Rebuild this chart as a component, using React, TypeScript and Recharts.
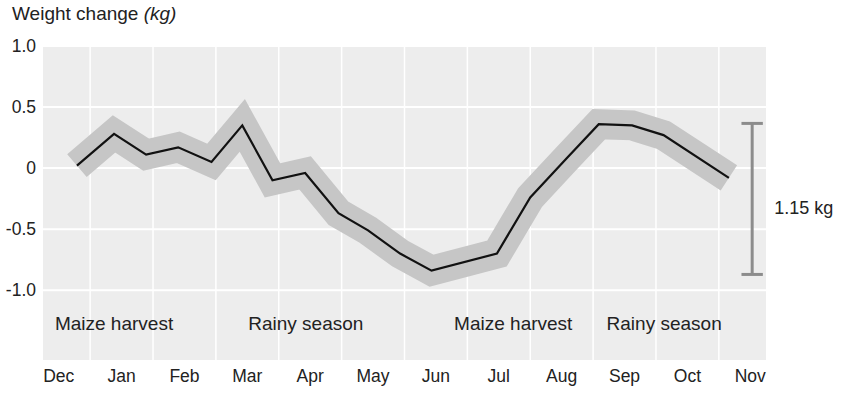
import {
  CartesianGrid,
  Line,
  LineChart,
  ReferenceDot,
  ReferenceLine,
  XAxis,
  YAxis,
} from "recharts"

// month labels, Dec = 0 ... Nov = 11 (label sits in the middle of its month)
const months = ["Dec", "Jan", "Feb", "Mar", "Apr", "May", "Jun", "Jul", "Aug", "Sep", "Oct", "Nov"]

// positions along the year (in months from the Dec label) and weight change (kg)
const positions = [0.29, 0.88, 1.39, 1.9, 2.43, 2.92, 3.4, 3.92, 4.45, 4.92, 5.43, 5.93, 6.97, 7.5, 8.08, 8.59, 9.12, 9.62, 10.66]
const weightChange = [0.02, 0.28, 0.11, 0.17, 0.05, 0.35, -0.1, -0.04, -0.37, -0.51, -0.7, -0.84, -0.7, -0.24, 0.08, 0.36, 0.35, 0.27, -0.08]

const yTicks = [1.0, 0.5, 0, -0.5, -1.0]

// season notes below the curve
const seasonLabels = ["Maize harvest", "Rainy season", "Maize harvest", "Rainy season"]
const seasonPositions = [0.88, 3.93, 7.23, 9.63]
const seasonLevel = -1.27

// range bracket on the right
const rangeTop = 0.366
const rangeBottom = -0.871
const rangeText = "1.15 kg"
const rangeTextLevel = -0.32

const data = positions.map((m, i) => ({ m, kg: weightChange[i] }))
const monthTicks = months.map((_, i) => i)
const monthBounds = months.slice(1).map((_, i) => i + 0.5)

const font = "'Liberation Sans', Arial, Helvetica, sans-serif"

export default function App() {
  return (
    <div style={{ position: "absolute", left: 0, top: 0, width: 843, height: 398, background: "#fff", fontFamily: font }}>
      <div style={{ position: "absolute", left: 12, top: 3, fontSize: 19, color: "#222", whiteSpace: "nowrap" }}>
        Weight change <i>(kg)</i>
      </div>
      <LineChart width={843} height={398} data={data} margin={{ top: 46, right: 77, bottom: 0, left: 0 }}>
        <CartesianGrid vertical={false} fill="#ededed" stroke="#ffffff" strokeWidth={2} />
        {monthBounds.map((b) => (
          <ReferenceLine key={b} x={b} stroke="#ffffff" strokeWidth={1.5} />
        ))}
        <XAxis
          type="number"
          dataKey="m"
          domain={[-0.25, 11.25]}
          ticks={monthTicks}
          tickFormatter={(v) => months[v]}
          axisLine={false}
          tickLine={false}
          tickSize={0}
          tickMargin={9}
          height={37}
          interval={0}
          tick={{ fontSize: 17.5, fill: "#222", fontFamily: font }}
          allowDataOverflow
        />
        <YAxis
          type="number"
          domain={[-1.58, 1.0]}
          ticks={yTicks}
          tickFormatter={(v) => (v === 0 ? "0" : v.toFixed(1))}
          axisLine={false}
          tickLine={false}
          tickSize={0}
          tickMargin={7}
          width={43}
          interval={0}
          tick={{ fontSize: 17.5, fill: "#222", fontFamily: font }}
          allowDataOverflow
        />
        <Line
          type="linear"
          dataKey="kg"
          stroke="#c6c6c6"
          strokeWidth={30}
          strokeLinejoin="miter"
          strokeLinecap="butt"
          dot={false}
          activeDot={false}
          isAnimationActive={false}
        />
        <Line
          type="linear"
          dataKey="kg"
          stroke="#111111"
          strokeWidth={2.2}
          dot={false}
          activeDot={false}
          isAnimationActive={false}
        />
        {seasonLabels.map((s, i) => (
          <ReferenceDot
            key={i}
            x={seasonPositions[i]}
            y={seasonLevel}
            r={0}
            fill="none"
            stroke="none"
            label={{ value: s, position: "center", fontSize: 19, fill: "#222", fontFamily: font }}
          />
        ))}
        <ReferenceLine
          segment={[{ x: 11.03, y: rangeTop }, { x: 11.03, y: rangeBottom }]}
          stroke="#8c8c8c"
          strokeWidth={3}
          ifOverflow="visible"
        />
        <ReferenceLine
          segment={[{ x: 10.86, y: rangeTop }, { x: 11.2, y: rangeTop }]}
          stroke="#8c8c8c"
          strokeWidth={3}
          ifOverflow="visible"
        />
        <ReferenceLine
          segment={[{ x: 10.86, y: rangeBottom }, { x: 11.2, y: rangeBottom }]}
          stroke="#8c8c8c"
          strokeWidth={3}
          ifOverflow="visible"
        />
        <ReferenceDot
          x={11.3}
          y={rangeTextLevel}
          r={0}
          fill="none"
          stroke="none"
          ifOverflow="visible"
          label={{ value: rangeText, position: "right", fontSize: 18, fill: "#222", fontFamily: font }}
        />
      </LineChart>
    </div>
  )
}
